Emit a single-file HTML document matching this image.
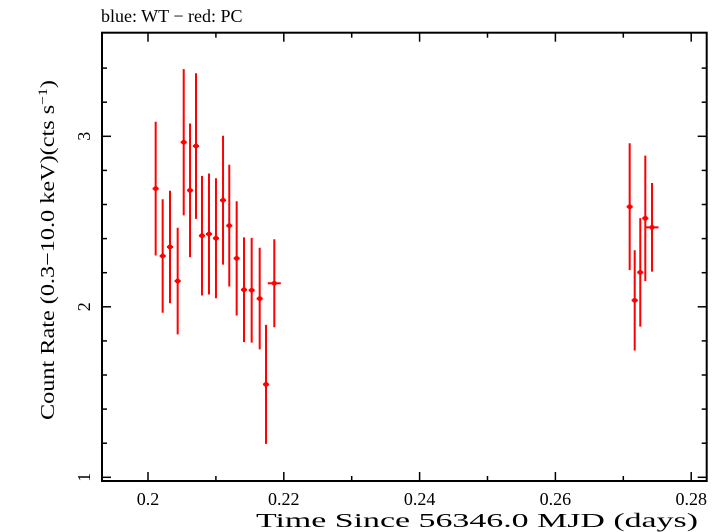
<!DOCTYPE html>
<html><head><meta charset="utf-8"><style>
html,body{margin:0;padding:0;background:#fff}
svg{display:block;font-family:"Liberation Serif",serif}
</style></head><body>
<svg id="chart" width="723" height="532" viewBox="0 0 723 532" xmlns="http://www.w3.org/2000/svg">
<text x="101" y="22" font-size="18" fill="#000">blue: WT − red: PC</text>
<rect x="102" y="32.7" width="604.7" height="448.3" fill="none" stroke="#000" stroke-width="2"/>
<g id="axes"></g>
<g id="series"></g>
<text x="256" y="527" font-size="20" textLength="442" lengthAdjust="spacingAndGlyphs">Time Since 56346.0 MJD (days)</text>
<text transform="translate(54,420) rotate(-90)" font-size="20" textLength="340" lengthAdjust="spacingAndGlyphs">Count Rate (0.3−10.0 keV)(cts s<tspan font-size="13" dy="-7">−1</tspan><tspan dy="7">)</tspan></text>
</svg>
<script>
const times=[0.20113,0.20216,0.20324,0.20437,0.20526,0.20619,0.20707,0.20795,0.20898,0.21001,0.21105,0.21197,0.21306,0.21414,0.21527,0.21645,0.21738,0.21860,0.27094,0.27168,0.27250,0.27324,0.27423];
const rates=[2.693,2.298,2.351,2.151,2.965,2.683,2.943,2.417,2.427,2.402,2.625,2.476,2.284,2.100,2.097,2.048,1.545,2.138,2.587,2.038,2.202,2.519,2.466];
const rateErr=[0.392,0.333,0.330,0.313,0.429,0.392,0.427,0.351,0.355,0.352,0.378,0.357,0.335,0.307,0.307,0.298,0.349,0.258,0.372,0.294,0.318,0.368,0.260];
const timeErr=[0.00045,0.00045,0.00045,0.00045,0.00045,0.00045,0.00045,0.00045,0.00045,0.00045,0.00045,0.00045,0.00045,0.00045,0.00045,0.00045,0.00045,0.00096,0.00045,0.00045,0.00045,0.00045,0.00096];
const xTicks=[0.2,0.22,0.24,0.26,0.28];
const xTickLabels=["0.2","0.22","0.24","0.26","0.28"];
const xMinor=[0.21,0.23,0.25,0.27];
const yTicks=[1,2,3];
const yTickLabels=["1","2","3"];
const yMinor=[1.2,1.4,1.6,1.8,2.2,2.4,2.6,2.8,3.2,3.4];

const NS="http://www.w3.org/2000/svg";
const L=102,R=706.7,T=32.7,B=481;
function xs(v){return 148+(v-0.2)*6790;}
function ys(v){return 136.3-(v-3)*170.5;}
function mk(tag,attrs,parent){const e=document.createElementNS(NS,tag);for(const k in attrs)e.setAttribute(k,attrs[k]);parent.appendChild(e);return e;}
const axes=document.getElementById('axes');
xTicks.forEach((v,i)=>{const x=xs(v);
 let t=mk('line',{x1:x,x2:x,y1:B,y2:B-9,stroke:'#000','stroke-width':1.5},axes);
 
 t=mk('line',{x1:x,x2:x,y1:T,y2:T+9,stroke:'#000','stroke-width':1.5},axes);
 
 const lb=mk('text',{x:x,y:505,'font-size':18,'text-anchor':'middle'},axes);lb.textContent=xTickLabels[i];
 
});
xMinor.forEach(v=>{const x=xs(v);
 let t=mk('line',{x1:x,x2:x,y1:B,y2:B-5,stroke:'#000','stroke-width':1.5},axes);
 
 t=mk('line',{x1:x,x2:x,y1:T,y2:T+5,stroke:'#000','stroke-width':1.5},axes);
 
});
yTicks.forEach((v,i)=>{const y=ys(v);
 let t=mk('line',{x1:L,x2:L+9,y1:y,y2:y,stroke:'#000','stroke-width':1.5},axes);
 
 t=mk('line',{x1:R,x2:R-9,y1:y,y2:y,stroke:'#000','stroke-width':1.5},axes);
 
 const lb=mk('text',{transform:`translate(90,${y}) rotate(-90)`,'font-size':18,'text-anchor':'middle'},axes);lb.textContent=yTickLabels[i];
 
});
yMinor.forEach(v=>{const y=ys(v);
 let t=mk('line',{x1:L,x2:L+5,y1:y,y2:y,stroke:'#000','stroke-width':1.5},axes);
 
 t=mk('line',{x1:R,x2:R-5,y1:y,y2:y,stroke:'#000','stroke-width':1.5},axes);
 
});
const ser=document.getElementById('series');
times.forEach((t,i)=>{
 const g=mk('g',{},ser);
 
 
 const x=xs(t),y=ys(rates[i]);
 mk('line',{x1:x,x2:x,y1:ys(rates[i]+rateErr[i]),y2:ys(rates[i]-rateErr[i]),stroke:'#f00','stroke-width':2},g);
 mk('line',{x1:xs(t-timeErr[i]),x2:xs(t+timeErr[i]),y1:y,y2:y,stroke:'#f00','stroke-width':2},g);
 mk('circle',{cx:x,cy:y,r:2.5,fill:'#f00'},g);
});
</script>
</body></html>
